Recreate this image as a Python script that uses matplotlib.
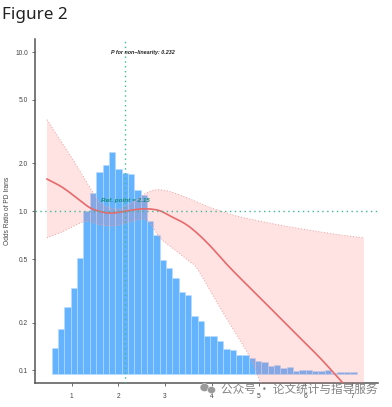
import numpy as np
import matplotlib
matplotlib.use("Agg")
import matplotlib.pyplot as plt
from matplotlib.patches import Ellipse

plt.rcParams['font.family'] = ['Liberation Sans', 'DejaVu Sans']

bar_values = [.1385, .1824, .252, .330, .512, 1.007, 1.307, 1.77, 1.96, 2.37, 1.85, 1.75,
              1.72, 1.365, 1.27, .863, .711, .495, .441, .382, .312, .298, .221, .206,
              .1655, .1655, .153, .1365, .1346, .125, .125, .120, .1147, .113, .107, .108,
              .1037, .1057, .0993, .1012, .1012, .0997, .0997, .1012, .0969, .0978, .0978, .0978]
bar_start = 0.577
bar_width = 0.1357
bar_base = 0.095

line_x = [.476, .818, 1.18, 1.395, 1.61, 1.82, 2.04, 2.25, 2.46, 2.68, 2.89, 3.10, 3.49, 3.90,
          4.41, 5.03, 5.67, 6.31, 6.80, 7.25]
line_y = [1.594, 1.406, 1.17, 1.052, .997, .974, .988, 1.012, 1.033, 1.033, 1.007, .937, .811, .634,
          .435, .286, .185, .120, .0835, .0616]
upper_x = [.476, 1.03, 1.33, 1.46, 1.61, 1.82, 2.04, 2.36, 2.61, 2.83, 3.10, 3.47, 3.90, 4.24, 4.60,
           5.31, 6.03, 6.74, 7.25]
upper_y = [3.76, 2.11, 1.51, 1.307, 1.13, 1.052, 1.037, 1.165, 1.307, 1.365, 1.33, 1.216, 1.072, .993, .923,
           .834, .765, .711, .681]
lower_x = [.476, .818, 1.29, 1.61, 1.93, 2.25, 2.61, 2.89, 3.21, 3.53, 3.70, 4.24, 4.81, 5.05, 5.45, 7.25]
lower_y = [.681, .746, .863, .822, .811, .859, .88, .681, .572, .481, .429, .230, .122, .0835, .0564, .02]

x_ticks = [1, 2, 3, 4, 5, 6, 7]
y_ticks = [0.1, 0.2, 0.5, 1.0, 2.0, 5.0, 10.0]
y_labels = ['0.1', '0.2', '0.5', '1.0', '2.0', '5.0', '10.0']
ref_x = 2.15
ref_y = 1.0


def smooth(xs, ys, n=12):
    """Draw a Catmull-Rom curve through the read points, in log-y space."""
    px = np.asarray(xs, float)
    py = np.log10(ys)
    px = np.r_[2 * px[0] - px[1], px, 2 * px[-1] - px[-2]]
    py = np.r_[2 * py[0] - py[1], py, 2 * py[-1] - py[-2]]
    t = np.linspace(0, 1, n, endpoint=False)[:, None]
    out = []
    for i in range(1, len(px) - 2):
        p = np.array([[px[i - 1], py[i - 1]], [px[i], py[i]], [px[i + 1], py[i + 1]], [px[i + 2], py[i + 2]]])
        out.append(0.5 * (2 * p[1] + (p[2] - p[0]) * t + (2 * p[0] - 5 * p[1] + 4 * p[2] - p[3]) * t ** 2
                          + (3 * p[1] - p[0] - 3 * p[2] + p[3]) * t ** 3))
    out = np.vstack(out + [[[px[-2], py[-2]]]])
    return out[:, 0], 10 ** out[:, 1]


fig = plt.figure(figsize=(3.92, 4.07), dpi=100)
W, H = 392, 407
ax = fig.add_axes([34.5 / W, 1 - 383 / H, (378 - 34.5) / W, (383 - 39) / H])
ax.set_yscale('log')
ax.set_xlim(0.209, 7.55)
ax.set_ylim(10 ** -1.0786, 10 ** 1.082)

lefts = bar_start + bar_width * np.arange(len(bar_values))
ax.bar(lefts, np.array(bar_values) - bar_base, bottom=bar_base, width=bar_width, align='edge',
       color='#63B3FF', edgecolor='#BBDDFF', linewidth=0.4, zorder=2)

ux, uy = smooth(upper_x, upper_y)
lx, ly = smooth(lower_x, lower_y)
cx_, cy_ = smooth(line_x, line_y)
ax.fill(np.r_[ux, lx[::-1]], np.r_[uy, ly[::-1]], color='#FF8080', alpha=0.22, linewidth=0, zorder=3)
ax.plot(ux, uy, color='#F0A0A0', lw=0.7, ls=(0, (1, 2)), zorder=4)
ax.plot(lx, ly, color='#F0A0A0', lw=0.7, ls=(0, (1, 2)), zorder=4)
ax.plot(cx_, cy_, color='#E8696B', lw=1.2, zorder=5)

ax.axhline(ref_y, color='#3DB894', lw=1.0, ls=(0, (1, 2.5)), zorder=6)
ax.axvline(ref_x, color='#3DB894', lw=1.0, ls=(0, (1, 2.5)), zorder=6)

ax.text(2.52, 10.0, 'P for non\u2212linearity: 0.232', fontsize=3.9, fontweight='bold', fontstyle='italic',
        ha='center', va='center', color='#222222', zorder=7)
ax.text(ref_x, 1.165, 'Ref. point = 2.15', fontsize=4.6, fontstyle='italic', fontweight='bold',
        ha='center', va='center', color='#128A78', zorder=7)

for s in ['top', 'right']:
    ax.spines[s].set_visible(False)
for s in ['left', 'bottom']:
    ax.spines[s].set_color('#555555')
    ax.spines[s].set_linewidth(1.1)
ax.set_xticks(x_ticks)
ax.set_xticklabels([str(v) for v in x_ticks])
ax.set_yticks(y_ticks)
ax.set_yticklabels(y_labels)
ax.minorticks_off()
ax.tick_params(axis='both', length=2.3, width=0.6, color='#555555', labelcolor='#444444', labelsize=4.8, pad=2.5)
ax.tick_params(axis='x', pad=5)
fig.text(7.3 / W, 1 - 211 / H, 'Odds Ratio of PD Irans', rotation=90, fontsize=4.8, color='#444444',
         ha='center', va='center')

fig.text(2 / W, 1 - 15 / H, 'Figure 2', fontsize=12.3, color='#222222', family=['Noto Sans', 'DejaVu Sans'],
         ha='left', va='center')

fig.text(221 / W, 1 - 389.5 / H, '公众号 · 论文统计与指导服务', fontsize=8.4, color='#777777', alpha=0.9,
         family=['Noto Sans CJK SC', 'DejaVu Sans'], ha='left', va='center')
for ex, ey, w, h in [(204.5, 387.5, 9, 8), (211.5, 390, 8, 7)]:
    fig.add_artist(Ellipse((ex / W, 1 - ey / H), w / W, h / H, transform=fig.transFigure,
                           facecolor='#999999', edgecolor='white', linewidth=0.3))

fig.savefig('out.png', dpi=100)
